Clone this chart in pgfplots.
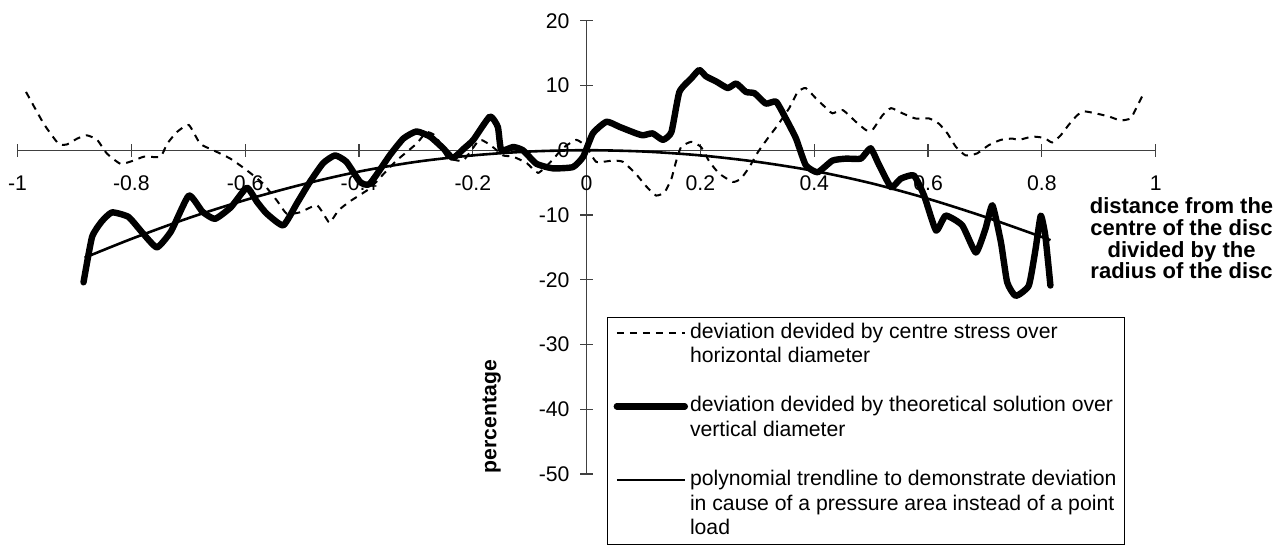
\documentclass[border=0pt]{standalone}
\usepackage{fontspec}
\setmainfont{Liberation Sans}
\usepackage{pgfplots}
\pgfplotsset{compat=1.18}

\begin{document}
\begin{tikzpicture}
\begin{axis}[
  scale only axis,
  width=569.1pt, height=226.65pt,
  xmin=-1, xmax=1, ymin=-50, ymax=20,
  enlargelimits=false,
  clip=false,
  axis lines=middle,
  axis line style={-, black!75, line width=0.6pt},
  xtick={-1,-0.8,-0.6,-0.4,-0.2,0,0.2,0.4,0.6,0.8,1},
  xticklabels={-1,-0.8,-0.6,-0.4,-0.2,0,0.2,0.4,0.6,0.8,1},
  ytick={-50,-40,-30,-20,-10,0,10,20},
  yticklabels={-50,-40,-30,-20,-10,0,10,20},
  hide obscured x ticks=false, hide obscured y ticks=false,
  tick align=center, major tick length=6.5pt,
  tick style={black!75, line width=0.6pt},
  tick label style={font=\fontsize{10.6}{12}\selectfont},
  xticklabel style={yshift=-5.9pt},
  yticklabel style={xshift=-1.8pt},
  xlabel={distance from the\\centre of the disc\\divided by the\\radius of the disc},
  xlabel style={at={(rel axis cs:1.0227,0.610)}, anchor=north, align=center,
    inner sep=0pt, font=\bfseries\fontsize{11}{10.83}\selectfont},
  ylabel={percentage},
  ylabel style={at={(rel axis cs:0.4166,0.1264)}, anchor=center, rotate=90,
    font=\bfseries\fontsize{10.6}{12}\selectfont},
  legend style={at={(0.518,0.347)}, anchor=north west, draw=black,
    line width=0.5pt, fill=white, inner xsep=3pt, inner ysep=1.5pt,
    row sep=0pt,
    nodes={inner xsep=1pt, inner ysep=0.9pt, text height=8pt, text depth=2.5pt},
    font=\fontsize{10.6}{12}\selectfont, cells={anchor=west}},
  legend image code/.code={\draw[#1] (0pt,0pt) -- (34pt,0pt);},
  no markers,
]
\coordinate (bl) at (rel axis cs:0,0);
\coordinate (tr) at (rel axis cs:1,1);

% centre stress, horizontal diameter
\addplot[black, line width=1pt, dash pattern=on 3.5pt off 3pt, smooth, tension=0.3]
coordinates {
(-0.985,9.0)(-0.954,4.1)(-0.928,1.0)(-0.913,0.9)(-0.895,1.8)(-0.878,2.3)
(-0.860,1.6)(-0.843,-0.5)(-0.819,-2.1)(-0.796,-1.6)(-0.778,-1.0)(-0.749,-1.0)
(-0.737,1.0)(-0.720,2.8)(-0.699,3.9)(-0.679,1.0)(-0.656,0.0)(-0.626,-1.3)
(-0.597,-3.1)(-0.568,-5.2)(-0.544,-7.8)(-0.527,-9.8)(-0.504,-9.6)(-0.474,-8.5)
(-0.457,-10.6)(-0.451,-11.2)(-0.436,-9.3)(-0.416,-7.9)(-0.381,-5.9)(-0.355,-3.5)
(-0.334,-1.6)(-0.299,1.0)(-0.281,2.8)(-0.264,2.1)(-0.246,-1.0)(-0.217,-1.6)
(-0.188,1.6)(-0.165,0.5)(-0.147,-0.8)(-0.129,-1.0)(-0.105,-2.0)(-0.085,-3.5)
(-0.060,-1.5)(-0.042,0.3)(-0.018,1.6)(0.000,0.5)(0.017,-1.8)(0.046,-1.6)
(0.064,-1.8)(0.087,-3.7)(0.105,-5.6)(0.122,-7.0)(0.137,-6.5)(0.149,-4.4)
(0.157,-1.8)(0.166,0.5)(0.184,1.3)(0.201,0.5)(0.216,-1.8)(0.233,-3.6)
(0.257,-4.9)(0.271,-4.4)(0.286,-2.6)(0.301,-0.3)(0.318,1.8)(0.336,3.9)
(0.356,6.5)(0.371,9.0)(0.385,9.6)(0.403,8.0)(0.421,6.5)(0.432,5.7)
(0.450,6.2)(0.473,4.4)(0.491,3.1)(0.502,3.1)(0.520,5.4)(0.535,6.5)
(0.555,5.7)(0.578,4.9)(0.602,4.9)(0.619,4.1)(0.634,2.6)(0.649,0.5)
(0.666,-0.8)(0.686,-0.5)(0.707,0.8)(0.728,1.6)(0.748,1.8)(0.760,1.6)
(0.783,2.1)(0.804,1.9)(0.818,1.2)(0.833,2.3)(0.847,3.9)(0.862,5.4)
(0.874,6.0)(0.894,5.7)(0.918,5.2)(0.938,4.6)(0.956,4.9)(0.964,6.2)(0.976,8.3)
};
\addlegendentry{deviation devided by centre stress over}
\addlegendimage{empty legend}\addlegendentry{horizontal diameter}
\addlegendimage{empty legend}\addlegendentry{\mbox{}}

% theoretical solution, vertical diameter
\addplot[black, line width=3.2pt, line join=round, line cap=round, smooth, tension=0.3]
coordinates {
(-0.884,-20.4)(-0.869,-13.4)(-0.852,-11.0)(-0.834,-9.6)(-0.805,-10.3)(-0.780,-12.8)
(-0.755,-15.0)(-0.730,-12.5)(-0.699,-7.0)(-0.675,-9.5)(-0.653,-10.6)(-0.625,-8.8)
(-0.597,-5.8)(-0.579,-8.0)(-0.562,-9.8)(-0.533,-11.6)(-0.509,-8.2)(-0.487,-5.0)
(-0.463,-2.0)(-0.442,-0.8)(-0.422,-1.8)(-0.398,-4.9)(-0.381,-5.2)(-0.346,-0.8)
(-0.322,1.8)(-0.299,2.9)(-0.275,2.1)(-0.252,0.3)(-0.235,-1.2)(-0.215,0.3)
(-0.199,1.6)(-0.170,5.2)(-0.156,3.6)(-0.150,0.0)(-0.129,0.5)(-0.112,0.0)
(-0.088,-2.1)(-0.059,-2.8)(-0.024,-2.6)(-0.006,-1.0)(0.011,2.6)(0.035,4.4)
(0.058,3.6)(0.087,2.6)(0.099,2.3)(0.116,2.6)(0.134,1.6)(0.149,2.8)
(0.163,9.0)(0.184,11.1)(0.198,12.4)(0.210,11.4)(0.228,10.6)(0.248,9.6)
(0.263,10.3)(0.280,9.0)(0.295,8.8)(0.315,7.2)(0.333,7.5)(0.350,4.9)
(0.368,1.8)(0.385,-2.3)(0.406,-3.4)(0.432,-1.6)(0.456,-1.3)(0.482,-1.3)
(0.499,0.3)(0.514,-2.3)(0.535,-5.7)(0.552,-4.4)(0.575,-3.9)(0.593,-7.0)
(0.614,-12.4)(0.631,-10.1)(0.660,-11.6)(0.684,-15.8)(0.701,-12.1)(0.713,-8.5)
(0.728,-14.2)(0.739,-20.4)(0.754,-22.5)(0.777,-20.9)(0.789,-15.2)(0.798,-10.1)
(0.806,-13.2)(0.815,-20.9)
};
\addlegendentry{deviation devided by theoretical solution over}
\addlegendimage{empty legend}\addlegendentry{vertical diameter}
\addlegendimage{empty legend}\addlegendentry{\mbox{}}

% polynomial trendline
\addplot[black, line width=1.3pt, smooth]
coordinates {
(-0.882,-16.6)(-0.8,-13.7)(-0.7,-10.5)(-0.6,-7.7)(-0.5,-5.3)(-0.4,-3.3)
(-0.3,-1.8)(-0.2,-0.8)(-0.1,-0.2)(0,0)(0.1,-0.2)(0.2,-0.8)(0.3,-1.8)
(0.4,-3.2)(0.5,-5.1)(0.6,-7.5)(0.7,-10.3)(0.8,-13.4)(0.815,-13.9)
};
\addlegendentry{polynomial trendline to demonstrate deviation}
\addlegendimage{empty legend}\addlegendentry{in cause of a pressure area instead of a point}
\addlegendimage{empty legend}\addlegendentry{load}
\end{axis}
\pgfresetboundingbox
\path ([shift={(-8.75pt,-35.5pt)}]bl) rectangle ([shift={(66.15pt,10.35pt)}]tr);
\end{tikzpicture}
\end{document}
